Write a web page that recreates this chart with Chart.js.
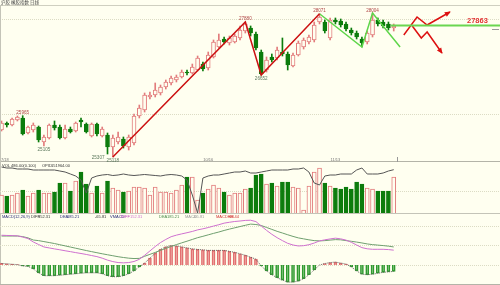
<!DOCTYPE html>
<html>
<head>
<meta charset="utf-8">
<script src="https://cdn.jsdelivr.net/npm/chart.js@4.4.1/dist/chart.umd.min.js"></script>
<style>
  html, body { margin: 0; padding: 0; background: #fffff0; }
  #wrap { position: relative; width: 500px; height: 285px; overflow: hidden; background: #fffff0; }
  #wrap canvas { position: absolute; left: 0; top: 0; }
</style>
</head>
<body>
<div id="wrap">
  <canvas id="priceChart" width="500" height="285"></canvas>
  <canvas id="volChart" width="500" height="285"></canvas>
  <canvas id="macdChart" width="500" height="285"></canvas>
</div>
<script>
// daily candles, index 0..74
const openP  = [25663,25811,25768,25874,25916,25600,25663,25726,25411,25495,25768,25726,25495,25684,25642,25874,25790,25537,25790,25537,25558,25305,25411,25474,25305,25390,25958,26084,26358,26400,26442,26568,26653,26716,26779,26884,26863,26926,27052,26968,27200,27410,27579,27495,27516,27600,27747,27810,27684,27305,26926,27200,27179,27305,27263,27010,27242,27410,27516,27558,27937,27937,27600,27979,27958,27895,27768,27705,27579,27516,27663,27979,27937,27895,27810];
const highP  = [25853,25832,25916,25958,25965,25747,25811,25747,25558,25790,25853,25768,25768,25726,25832,25916,25811,25811,25811,25726,25600,25558,25621,25516,25558,26000,26189,26442,26463,26653,26610,26716,26800,26821,26926,26926,27052,27221,27094,27305,27558,27684,27621,27642,27684,27853,27937,27853,27726,27347,27200,27263,27410,27600,27305,27284,27537,27600,27663,27937,28110,27979,28021,28021,28000,27937,27810,27747,27621,27747,28126,28021,27979,27937,27895];
const lowP   = [25642,25726,25747,25853,25558,25579,25621,25411,25326,25474,25663,25474,25474,25600,25621,25726,25600,25516,25537,25516,25158,25095,25369,25284,25242,25348,25916,26042,26316,26358,26400,26526,26610,26674,26758,26821,26842,26905,26905,26926,27179,27389,27474,27452,27495,27558,27705,27642,27347,26821,26884,27094,27137,27221,26926,26989,27221,27368,27474,27516,27895,27705,27558,27895,27831,27747,27663,27579,27410,27474,27621,27853,27810,27768,27747];
const closeP = [25811,25768,25895,25937,25579,25726,25768,25453,25516,25768,25705,25495,25684,25621,25811,25832,25621,25790,25579,25684,25305,25495,25516,25326,25516,25958,26126,26400,26400,26505,26568,26674,26758,26779,26884,26863,26989,27179,26947,27242,27516,27558,27516,27600,27642,27768,27895,27705,27389,26842,27137,27137,27347,27263,27031,27242,27495,27558,27621,27874,28042,27747,27979,27937,27874,27789,27705,27621,27495,27705,27979,27895,27853,27810,27853];

// volume (万手) and open interest (手)
const volume = [18,17,18,20,23,17,20,23,20,20,21,30,30,22,32,41,29,20,27,20,32,25,23,21,22,26,26,25,18,26,21,21,20,23,28,36,36,13,20,24,28,25,21,18,20,20,24,25,38,39,29,30,27,31,31,26,25,3,27,41,45,30,27,25,24,26,24,31,29,25,24,22,22,22,36];
const openInt = [155200,154000,154000,152800,152800,152800,151600,151600,151600,151600,151600,150400,149200,146800,144400,139600,124000,142000,144400,145600,146200,145000,145600,146800,145600,145000,145600,146200,145600,145000,144400,145600,146200,145600,144400,139600,121600,100000,142000,144400,145600,145600,146800,148000,149200,149200,150400,148000,148000,149200,150400,151600,151600,151600,151600,152800,152800,154000,149200,136000,133600,144400,145600,145600,146800,146800,146800,151600,154000,146800,146800,146800,148000,150400,151964];

// MACD(12,26,9)
const diffLine = [305,303,301,299,286,271,236,210,185,175,165,156,146,137,127,118,108,97,86,70,50,35,25,22,25,36,58,99,144,189,230,262,290,306,319,331,344,360,371,384,399,413,429,438,446,451,457,459,445,400,355,315,280,250,222,205,195,198,208,225,247,258,267,275,268,255,233,205,178,166,161,161,161,158,152];
const deaLine  = [297,297,297,297,291,278,256,250,240,230,220,208,196,184,172,160,148,137,126,115,105,95,85,77,70,66,68,89,109,129,150,170,190,209,227,244,262,280,294,309,324,338,354,368,381,394,407,419,415,405,385,365,345,328,310,293,278,268,258,250,247,250,255,260,258,250,243,235,226,216,209,204,199,193,185];
const macdHist = [16,12,8,4,-10,-14,-40,-80,-110,-110,-110,-105,-100,-95,-90,-85,-80,-80,-80,-90,-110,-120,-120,-110,-90,-60,-20,20,70,120,160,185,200,195,185,175,165,160,155,150,150,150,150,140,130,115,100,80,60,-10,-60,-100,-130,-155,-175,-175,-165,-140,-100,-50,0,15,25,30,20,10,-20,-60,-95,-100,-95,-85,-75,-70,-66];

// drawn trend lines [index, price]
const redWave   = [[21, 25095], [46, 27937], [49, 26821], [60, 28110]];
const greenWave = [[60, 28110], [68, 27410], [70, 28126], [75.2, 27410]];
const arrowUp   = [[75.9, 27663], [78.4, 28042], [80.3, 27874], [84.6, 28147]];
const arrowDown = [[77.5, 27853], [79.2, 27600], [80.3, 27726], [83.1, 27284]];
const keyLevel = 27863;
const keyLevelFrom = 73.5;

// marked highs / lows
const pivotIdx  = [4, 8, 20, 21, 46, 49, 60, 70];
const pivotSide = ['high', 'low', 'low', 'low', 'high', 'low', 'high', 'high'];
const pivotText = ['25965', '25105', '25307', '25118', '27880', '26652', '28071', '28004'];

const dateIdx  = [0, 39, 63];
const dateText = ['7/18', '10/16', '11/13'];

const priceGrid = [26000, 28000];
const volGrid = [22];
const macdGrid = [0, 200, 400];

const xMin = -0.283, xMax = 94.05;
const paper = '#fffff0', upColor = '#e27c7c', downColor = '#0c7c0c';
const isUp = closeP.map((c, i) => c >= openP[i]);
const pts = arr => arr.map(p => ({ x: p[0], y: p[1] }));
const xAxis = { type: 'linear', min: xMin, max: xMax, offset: false, display: false };

function txt(ctx, s, x, y, font, color, align, base) {
  ctx.save();
  ctx.font = font; ctx.fillStyle = color;
  ctx.textAlign = align || 'left'; ctx.textBaseline = base || 'alphabetic';
  ctx.fillText(s, x, y);
  ctx.restore();
}
function hline(ctx, y, x1, x2, color, dash) {
  ctx.save();
  ctx.strokeStyle = color; ctx.lineWidth = 1;
  ctx.setLineDash(dash || []);
  ctx.beginPath(); ctx.moveTo(x1, Math.round(y) + 0.5); ctx.lineTo(x2, Math.round(y) + 0.5); ctx.stroke();
  ctx.restore();
}
function gridPlugin(values, yId) {
  return {
    id: 'grid_' + yId,
    beforeDatasetsDraw(chart) {
      const { ctx, chartArea: a } = chart;
      values.forEach(v => hline(ctx, chart.scales[yId].getPixelForValue(v), a.left, a.right, '#dcdcc4', [1, 1]));
    }
  };
}
function arrowHead(ctx, chart, path, color) {
  const xs = chart.scales.x, ys = chart.scales.y;
  const n = path.length;
  const x1 = xs.getPixelForValue(path[n - 2][0]), y1 = ys.getPixelForValue(path[n - 2][1]);
  const x2 = xs.getPixelForValue(path[n - 1][0]), y2 = ys.getPixelForValue(path[n - 1][1]);
  const ang = Math.atan2(y2 - y1, x2 - x1);
  ctx.save();
  ctx.fillStyle = color;
  ctx.translate(x2, y2); ctx.rotate(ang);
  ctx.beginPath(); ctx.moveTo(1, 0); ctx.lineTo(-5, -2.6); ctx.lineTo(-5, 2.6); ctx.closePath(); ctx.fill();
  ctx.restore();
}

const smallFont = '4px "Liberation Sans"';

const mainDeco = {
  id: 'mainDeco',
  afterDatasetsDraw(chart) {
    const { ctx, chartArea: a } = chart;
    const xs = chart.scales.x, ys = chart.scales.y;
    // borders
    hline(ctx, 4.5, 0, 500, '#cfcfc0');
    hline(ctx, a.bottom + 1, 0, 500, '#b4b4a8');
    ctx.save(); ctx.strokeStyle = '#c4c4b8'; ctx.beginPath(); ctx.moveTo(0.5, 5); ctx.lineTo(0.5, 285); ctx.stroke(); ctx.restore();
    ctx.save(); ctx.strokeStyle = '#999'; ctx.beginPath();
    ctx.moveTo(397.5, 157); ctx.lineTo(397.5, 162); ctx.moveTo(492, 29.5); ctx.lineTo(499, 29.5); ctx.stroke(); ctx.restore();

    // pivot labels
    pivotIdx.forEach((i, k) => {
      const x = xs.getPixelForValue(i);
      if (pivotSide[k] === 'high') {
        txt(ctx, pivotText[k], x, ys.getPixelForValue(highP[i]) - 1.5, '4.6px "Liberation Sans"', '#b04646', 'center', 'alphabetic');
      } else {
        const next = pivotIdx[k + 1] === i + 1 && pivotSide[k + 1] === 'low';
        txt(ctx, pivotText[k], next ? x - 3 : x, ys.getPixelForValue(lowP[i]) + 1.5, '4.6px "Liberation Sans"', '#5e7a5e', next ? 'right' : 'center', 'top');
      }
    });

    arrowHead(ctx, chart, arrowUp, '#dd1010');
    arrowHead(ctx, chart, arrowDown, '#dd1010');

    txt(ctx, String(keyLevel), 467, ys.getPixelForValue(keyLevel) - 2, 'bold 7.5px "Liberation Sans"', '#e23232', 'left', 'alphabetic');

    txt(ctx, '沪胶 橡胶指数 日线', 1, 4, '4.5px "Noto Sans CJK SC"', '#444', 'left', 'alphabetic');

    dateIdx.forEach((i, k) => {
      txt(ctx, dateText[k], k === 0 ? 1 : xs.getPixelForValue(i), a.bottom + 1.5, smallFont, '#777', k === 0 ? 'left' : 'center', 'bottom');
    });
  }
};

const lineDs = (data, color, width) => ({
  type: 'line', data: pts(data), borderColor: color, borderWidth: width,
  pointRadius: 0, fill: false, tension: 0, order: 0
});

new Chart(document.getElementById('priceChart'), {
  type: 'bar',
  data: {
    datasets: [
      lineDs(redWave, '#cc1212', 1.5),
      lineDs(greenWave, '#5fd64a', 1.5),
      lineDs([[keyLevelFrom, keyLevel], [xMax, keyLevel]], '#6ad650', 2),
      lineDs(arrowUp, '#dd1010', 1.5),
      lineDs(arrowDown, '#dd1010', 1.5),
      {
        data: openP.map((o, i) => ({ x: i, y: [Math.min(o, closeP[i]), Math.max(o, closeP[i])] })),
        backgroundColor: isUp.map(u => u ? paper : downColor),
        borderColor: isUp.map(u => u ? upColor : downColor),
        borderWidth: 1, borderSkipped: false, barThickness: 4, grouped: false, order: 1
      },
      {
        data: openP.map((o, i) => ({ x: i, y: [lowP[i], highP[i]] })),
        backgroundColor: isUp.map(u => u ? upColor : downColor),
        borderWidth: 0, barThickness: 1, grouped: false, order: 2
      }
    ]
  },
  options: {
    responsive: false, animation: false, devicePixelRatio: 1, events: [],
    layout: { padding: { top: 5, bottom: 125, left: 0, right: 0 } },
    scales: {
      x: xAxis,
      y: { min: 25031.7, max: 28294.5, display: false }
    },
    plugins: { legend: { display: false }, tooltip: { enabled: false } }
  },
  plugins: [gridPlugin(priceGrid, 'y'), mainDeco]
});

const volDeco = {
  id: 'volDeco',
  afterDatasetsDraw(chart) {
    const { ctx, chartArea: a } = chart;
    hline(ctx, a.bottom, 0, 500, '#c4c4b8');
    txt(ctx, 'VOL 486.00(0.100)', 2, 167, smallFont, '#333');
    txt(ctx, 'OPID', 42, 167, smallFont, '#333');
    txt(ctx, '151964.00', 51, 167, smallFont, '#333');
  }
};

new Chart(document.getElementById('volChart'), {
  type: 'bar',
  data: {
    datasets: [
      {
        type: 'line', yAxisID: 'y2',
        data: openInt.map((v, i) => ({ x: i, y: v })),
        borderColor: '#555', borderWidth: 1, pointRadius: 0, tension: 0, order: 0
      },
      {
        data: volume.map((v, i) => ({ x: i, y: v })),
        backgroundColor: isUp.map(u => u ? paper : downColor),
        borderColor: isUp.map(u => u ? upColor : downColor),
        borderWidth: 1, barThickness: 4, order: 1
      }
    ]
  },
  options: {
    responsive: false, animation: false, devicePixelRatio: 1, events: [],
    layout: { padding: { top: 163, bottom: 72, left: 0, right: 0 } },
    scales: {
      x: xAxis,
      y: { min: 0, max: 50, display: false },
      y2: { min: 100000, max: 160000, display: false }
    },
    plugins: { legend: { display: false }, tooltip: { enabled: false } }
  },
  plugins: [gridPlugin(volGrid, 'y'), volDeco]
});

const macdDeco = {
  id: 'macdDeco',
  afterDatasetsDraw(chart) {
    const { ctx, chartArea: a } = chart;
    hline(ctx, a.bottom, 0, 500, '#b4b4a8');
    const y = 218;
    const parts = [
      ['MACD(12,26,9)', 2, '#2a2a7a'], ['DIFF', 31, '#333'], ['152.31', 38, '#333'],
      ['DEA', 60, '#2a2a7a'], ['185.21', 67, '#2a2a7a'], ['-65.81', 95, '#333'],
      ['VMACD', 110, '#2a2a7a'], ['DIFF', 121, '#c040c0'], ['152.31', 130, '#d070d0'],
      ['DEA', 159, '#4a8a4a'], ['185.21', 167, '#4a8a4a'], ['MACD', 185, '#999'],
      ['-65.81', 193, '#999'], ['MACDHH', 216, '#d03030'], ['61.44', 229, '#d03030']
    ];
    parts.forEach(p => txt(ctx, p[0], p[1], y, smallFont, p[2]));
  }
};

new Chart(document.getElementById('macdChart'), {
  type: 'bar',
  data: {
    datasets: [
      { type: 'line', data: diffLine.map((v, i) => ({ x: i, y: v })), borderColor: '#cf70cf', borderWidth: 1, pointRadius: 0, tension: 0, order: 0 },
      { type: 'line', data: deaLine.map((v, i) => ({ x: i, y: v })), borderColor: '#6f9f6f', borderWidth: 1, pointRadius: 0, tension: 0, order: 0 },
      { type: 'line', data: macdHist.map((v, i) => ({ x: i, y: v })), borderColor: '#666', borderWidth: 1, borderDash: [1, 1], pointRadius: 0, tension: 0, order: 1 },
      {
        data: macdHist.map((v, i) => ({ x: i, y: v })),
        backgroundColor: 'rgba(0,0,0,0)',
        borderColor: macdHist.map(v => v >= 0 ? '#e27070' : '#2f9a2f'),
        borderWidth: 1, barThickness: 3, order: 2
      }
    ]
  },
  options: {
    responsive: false, animation: false, devicePixelRatio: 1, events: [],
    layout: { padding: { top: 218, bottom: 1, left: 0, right: 0 } },
    scales: {
      x: xAxis,
      y: { min: -194.75, max: 481.75, display: false }
    },
    plugins: { legend: { display: false }, tooltip: { enabled: false } }
  },
  plugins: [gridPlugin(macdGrid, 'y'), macdDeco]
});
</script>
</body>
</html>
